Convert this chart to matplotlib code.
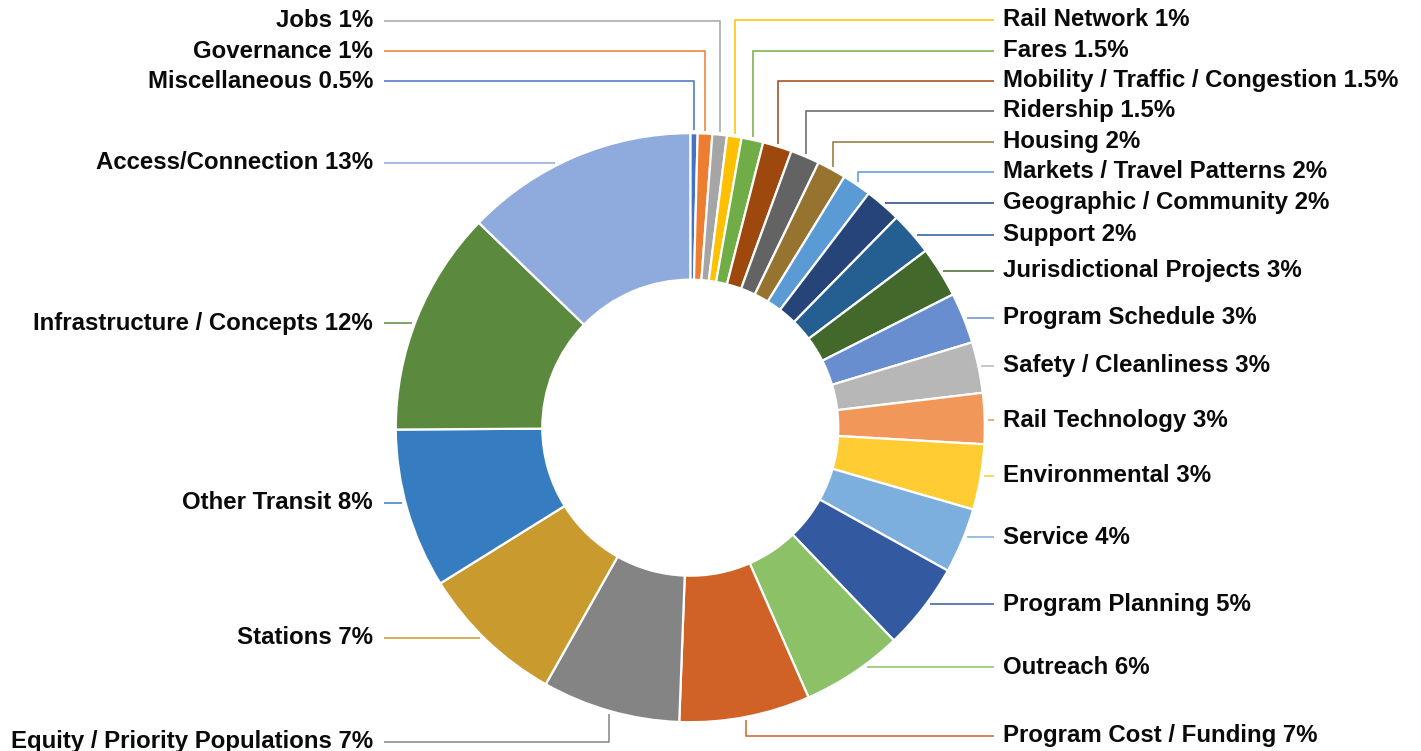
import numpy as np
import matplotlib
matplotlib.use("Agg")
import matplotlib.pyplot as plt

# ---------------- data ----------------
categories = ["Miscellaneous", "Governance", "Jobs", "Rail Network", "Fares",
              "Mobility / Traffic / Congestion", "Ridership", "Housing",
              "Markets / Travel Patterns", "Geographic / Community", "Support",
              "Jurisdictional Projects", "Program Schedule", "Safety / Cleanliness",
              "Rail Technology", "Environmental", "Service", "Program Planning",
              "Outreach", "Program Cost / Funding", "Equity / Priority Populations",
              "Stations", "Other Transit", "Infrastructure / Concepts",
              "Access/Connection"]
counts = [1, 2, 2, 2, 3, 4, 4, 4, 4, 5, 6, 7, 7, 7, 7, 9, 9, 12, 14, 18, 19, 20,
          22, 31, 32]
pct_labels = ["0.5%", "1%", "1%", "1%", "1.5%", "1.5%", "1.5%", "2%", "2%", "2%",
              "2%", "3%", "3%", "3%", "3%", "3%", "4%", "5%", "6%", "7%", "7%",
              "7%", "8%", "12%", "13%"]

# ---------------- style / layout ----------------
colors = ["#4472C4", "#ED7D31", "#A5A5A5", "#FFC000", "#70AD47", "#9E480E",
          "#636363", "#977330", "#5B9BD5", "#264478", "#255E91", "#43682B",
          "#698ED0", "#B7B7B7", "#F1975A", "#FFCD33", "#7CAFDD", "#335AA1",
          "#8CC168", "#D06228", "#848484", "#C99A2E", "#357CC0", "#5B8A3E",
          "#8FAADC"]
label_side = ["L", "L", "L", "R", "R", "R", "R", "R", "R", "R", "R", "R", "R",
              "R", "R", "R", "R", "R", "R", "R", "L", "L", "L", "L", "L"]
label_ypx = [81, 51, 20.5, 20, 50.5, 81, 111, 141.5, 172, 203, 235, 271, 317.5,
             365.5, 420, 476, 537, 604, 667, 735.7, 741.7, 637.7, 502.7, 323.3,
             162.7]

W, H = 1421, 751
fig = plt.figure(figsize=(W / 100, H / 100), dpi=100)
ax = fig.add_axes([0, 0, 1, 1])

cx, cy_px = 690.3, 427.7
cy = H - cy_px
R, r_in = 294.5, 148.0

ax.pie(counts, colors=colors, startangle=90, counterclock=False, radius=R,
       center=(cx, cy), frame=True,
       wedgeprops=dict(width=R - r_in, edgecolor="white", linewidth=1.6))
ax.set_xlim(0, W)
ax.set_ylim(0, H)
ax.set_aspect("auto")
ax.axis("off")

total = float(sum(counts))
cum = np.concatenate([[0], np.cumsum(counts)]) / total * 360.0
gap = 3.0
x_right_line, x_right_text = 994.0, 1003.0
x_left_line, x_left_text = 384.0, 373.0
fs = 17.3

for i, cat in enumerate(categories):
    a0, a1 = cum[i], cum[i + 1]
    am = np.radians((a0 + a1) / 2)
    ly = H - label_ypx[i]
    side = label_side[i]
    col = colors[i]
    dy = ly - cy
    hit = False
    if abs(dy) < R:
        dxc = np.sqrt(R ** 2 - dy ** 2)
        ang = np.degrees(np.arctan2(dxc, dy))
        if side == "L":
            ang = 360 - ang
        if a0 <= ang <= a1:
            hit = True
    if hit:
        dxo = np.sqrt((R + gap) ** 2 - dy ** 2)
        xs = cx + dxo if side == "R" else cx - dxo
        xe = x_right_line if side == "R" else x_left_line
        ax.plot([xs, xe], [ly, ly], color=col, lw=1.1, solid_capstyle="butt")
    else:
        px = cx + (R + gap) * np.sin(am)
        py = cy + (R + gap) * np.cos(am)
        xe = x_right_line if side == "R" else x_left_line
        ax.plot([px, px, xe], [py, ly, ly], color=col, lw=1.1,
                solid_capstyle="butt", solid_joinstyle="miter")
    txt = f"{cat} {pct_labels[i]}"
    if side == "R":
        ax.text(x_right_text, H - (label_ypx[i] + 6.5), txt, ha="left",
                va="baseline", fontsize=fs, fontweight="bold",
                family=["Liberation Sans", "DejaVu Sans"], color="#0a0a0a")
    else:
        ax.text(x_left_text, H - (label_ypx[i] + 6.5), txt, ha="right",
                va="baseline", fontsize=fs, fontweight="bold",
                family=["Liberation Sans", "DejaVu Sans"], color="#0a0a0a")

fig.savefig("out.png", dpi=100)
